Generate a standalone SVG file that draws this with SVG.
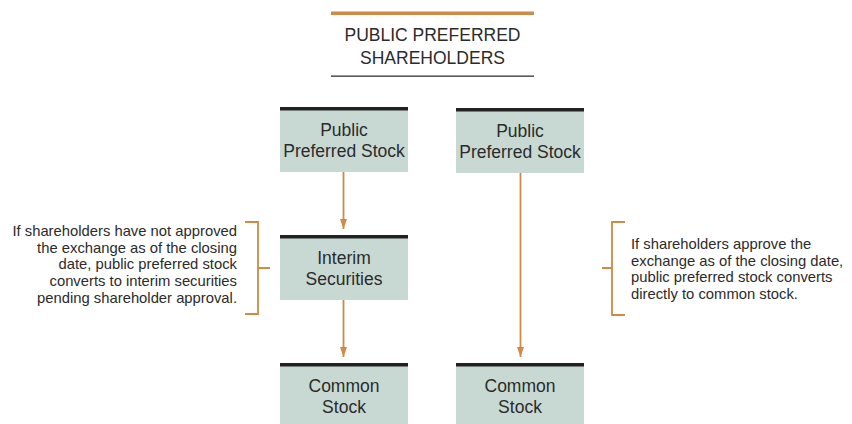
<svg xmlns="http://www.w3.org/2000/svg" width="852" height="424" viewBox="0 0 852 424">
<defs>
<style>
.t{font-family:"Liberation Sans",Arial,sans-serif;fill:#2b2b2b}
.box{fill:#c8d9d3}
.bar{fill:#222222}
.ttl{font-size:17.5px;text-anchor:middle}
.note{font-size:14.8px}
.org{stroke:#cf8a45;stroke-width:1.8;fill:none}
</style>
<marker id="ah" viewBox="0 0 10 10" refX="10" refY="5" markerWidth="10" markerHeight="10" markerUnits="userSpaceOnUse" orient="auto">
<path d="M0,1.5 L10,5 L0,8.5 Z" fill="#cf8a45"/>
</marker>
</defs>
<rect width="852" height="424" fill="#ffffff"/>
<g id="header">
<rect x="331" y="11.5" width="203" height="3.5" fill="#cf8a45"/>
<text class="t ttl" x="432.5" y="41" font-size="18">PUBLIC PREFERRED</text>
<text class="t ttl" x="432.5" y="64" font-size="18">SHAREHOLDERS</text>
<rect x="331" y="75.5" width="203" height="1.3" fill="#333333"/>
</g>
<g id="node-ppsA">
<rect class="box" x="280" y="107" width="128" height="65"/>
<rect class="bar" x="280" y="107" width="128" height="3.5"/>
<text class="t ttl" x="344" y="136">Public</text>
<text class="t ttl" x="344" y="157">Preferred Stock</text>
</g>
<g id="node-ppsB">
<rect class="box" x="456" y="108" width="128" height="65"/>
<rect class="bar" x="456" y="108" width="128" height="3.5"/>
<text class="t ttl" x="520" y="137">Public</text>
<text class="t ttl" x="520" y="158">Preferred Stock</text>
</g>
<g id="node-interim">
<rect class="box" x="280" y="235" width="128" height="65"/>
<rect class="bar" x="280" y="235" width="128" height="3.5"/>
<text class="t ttl" x="344" y="264">Interim</text>
<text class="t ttl" x="344" y="285">Securities</text>
</g>
<g id="node-commonA">
<rect class="box" x="280" y="363" width="128" height="61"/>
<rect class="bar" x="280" y="363" width="128" height="3.5"/>
<text class="t ttl" x="344" y="392">Common</text>
<text class="t ttl" x="344" y="413">Stock</text>
</g>
<g id="node-commonB">
<rect class="box" x="456" y="363" width="128" height="61"/>
<rect class="bar" x="456" y="363" width="128" height="3.5"/>
<text class="t ttl" x="520" y="392">Common</text>
<text class="t ttl" x="520" y="413">Stock</text>
</g>
<g id="connectors">
<line class="org" x1="343.5" y1="172" x2="343.5" y2="229" marker-end="url(#ah)"/>
<line class="org" x1="343.5" y1="300" x2="343.5" y2="357" marker-end="url(#ah)"/>
<line class="org" x1="520.5" y1="173" x2="520.5" y2="357" marker-end="url(#ah)"/>
</g>
<g id="note-left">
<path class="org" d="M245,222 H258 V314 H245 M258,268 H270"/>
<text class="t note" text-anchor="end" x="237" y="236">If shareholders have not approved</text>
<text class="t note" text-anchor="end" x="237" y="252.7">the exchange as of the closing</text>
<text class="t note" text-anchor="end" x="237" y="269.4">date, public preferred stock</text>
<text class="t note" text-anchor="end" x="237" y="286">converts to interim securities</text>
<text class="t note" text-anchor="end" x="237" y="302.7">pending shareholder approval.</text>
</g>
<g id="note-right">
<path class="org" d="M625,222 H612 V315 H625 M612,268 H602"/>
<text class="t note" x="631" y="249">If shareholders approve the</text>
<text class="t note" x="631" y="265.5">exchange as of the closing date,</text>
<text class="t note" x="631" y="282">public preferred stock converts</text>
<text class="t note" x="631" y="298.5">directly to common stock.</text>
</g>
</svg>
